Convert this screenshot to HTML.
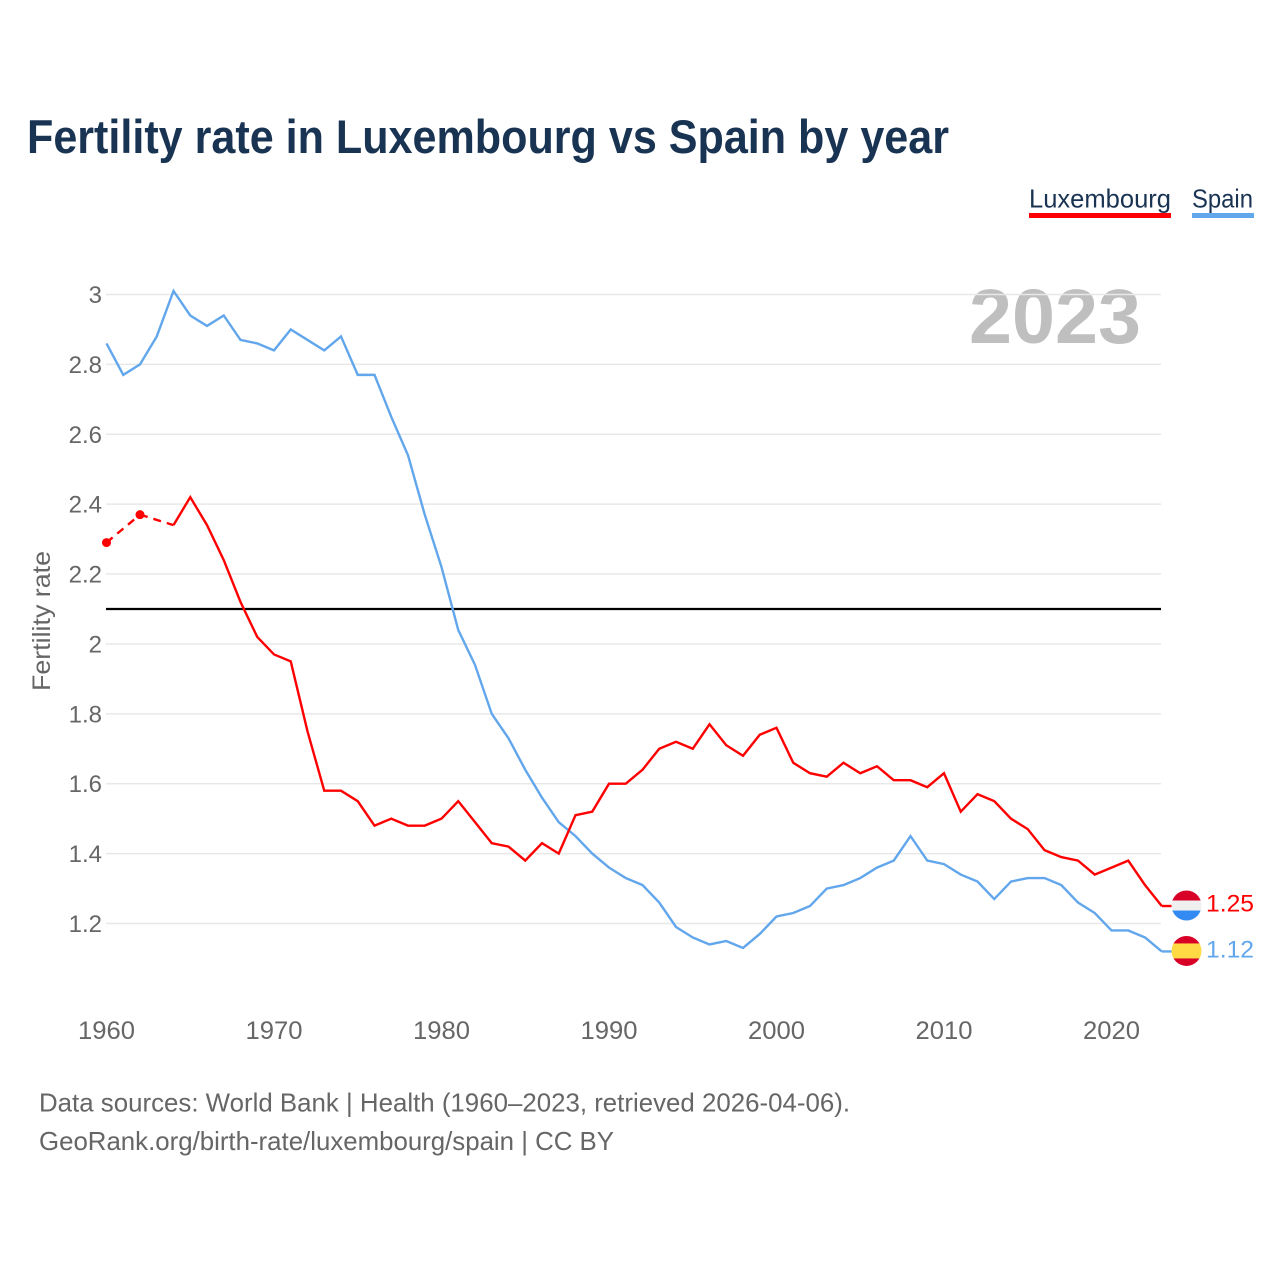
<!DOCTYPE html>
<html lang="en">
<head>
<meta charset="utf-8">
<title>Fertility rate in Luxembourg vs Spain by year</title>
<style>
html,body{margin:0;padding:0;background:#fff}
svg{display:block;font-family:"Liberation Sans",sans-serif}
</style>
</head>
<body>
<svg id="chart" width="1280" height="1280" viewBox="0 0 1280 1280" xmlns="http://www.w3.org/2000/svg">
  <defs>
    <clipPath id="lux-clip"><circle id="lux-clip-circle" cx="1186.5" cy="906" r="15"/></clipPath>
    <clipPath id="esp-clip"><circle id="esp-clip-circle" cx="1186.5" cy="951" r="15"/></clipPath>
  </defs>
  <text x="27" y="153" font-size="47" font-weight="700" fill="#193353" textLength="922" lengthAdjust="spacingAndGlyphs">Fertility rate in Luxembourg vs Spain by year</text>

  <g>
    <text x="1029" y="207.5" font-size="26" fill="#193353" textLength="142" lengthAdjust="spacingAndGlyphs">Luxembourg</text>
    <rect x="1029" y="213" width="142" height="5" fill="#ff0000"/>
  </g>
  <g>
    <text x="1192" y="207.5" font-size="26" fill="#193353" textLength="61" lengthAdjust="spacingAndGlyphs">Spain</text>
    <rect x="1192" y="213" width="62" height="5" fill="#62a6ec"/>
  </g>

  <text x="969" y="343" font-size="77" font-weight="700" fill="#bfbfbf" textLength="172" lengthAdjust="spacingAndGlyphs">2023</text>

  <g id="grid"></g>
  <g id="y-ticks"></g>
  <g id="x-ticks"></g>
  <text transform="translate(50,621) rotate(-90)" text-anchor="middle" font-size="25" fill="#666666" textLength="140" lengthAdjust="spacingAndGlyphs">Fertility rate</text>

  <line id="ref-line" x1="106" x2="1161" stroke="#000000" stroke-width="2.2"/>
  <g id="series"></g>

  <g id="flag-lux"></g>
  <g id="flag-esp"></g>
  <g id="end-labels"></g>

  <text x="39" y="1111.5" font-size="26" fill="#666666" textLength="811" lengthAdjust="spacingAndGlyphs">Data sources: World Bank | Health (1960–2023, retrieved 2026-04-06).</text>
  <text x="39" y="1150" font-size="26" fill="#666666" textLength="575" lengthAdjust="spacingAndGlyphs">GeoRank.org/birth-rate/luxembourg/spain | CC BY</text>
</svg>
<script>
const startYear = 1960;
const yTickLabels = ["3", "2.8", "2.6", "2.4", "2.2", "2", "1.8", "1.6", "1.4", "1.2"];
const xTickLabels = ["1960", "1970", "1980", "1990", "2000", "2010", "2020"];
const referenceValue = 2.1;
const luxembourgValues = [2.29, null, 2.37, null, 2.34, 2.42, 2.34, 2.24, 2.12, 2.02, 1.97, 1.95, 1.75, 1.58, 1.58, 1.55, 1.48, 1.50, 1.48, 1.48, 1.50, 1.55, 1.49, 1.43, 1.42, 1.38, 1.43, 1.40, 1.51, 1.52, 1.60, 1.60, 1.64, 1.70, 1.72, 1.70, 1.77, 1.71, 1.68, 1.74, 1.76, 1.66, 1.63, 1.62, 1.66, 1.63, 1.65, 1.61, 1.61, 1.59, 1.63, 1.52, 1.57, 1.55, 1.50, 1.47, 1.41, 1.39, 1.38, 1.34, 1.36, 1.38, 1.31, 1.25];
const spainValues = [2.86, 2.77, 2.80, 2.88, 3.01, 2.94, 2.91, 2.94, 2.87, 2.86, 2.84, 2.90, 2.87, 2.84, 2.88, 2.77, 2.77, 2.65, 2.54, 2.37, 2.22, 2.04, 1.94, 1.80, 1.73, 1.64, 1.56, 1.49, 1.45, 1.40, 1.36, 1.33, 1.31, 1.26, 1.19, 1.16, 1.14, 1.15, 1.13, 1.17, 1.22, 1.23, 1.25, 1.30, 1.31, 1.33, 1.36, 1.38, 1.45, 1.38, 1.37, 1.34, 1.32, 1.27, 1.32, 1.33, 1.33, 1.31, 1.26, 1.23, 1.18, 1.18, 1.16, 1.12];

const NS = "http://www.w3.org/2000/svg";
const xScale = year => 106.5 + (year - 1960) * 16.75;
const yScale = value => 294.5 + (3 - value) * 349.44;
const RED = "#ff0000";
const BLUE = "#62a6ec";
const GREY = "#666666";

function make(tag, attrs, parent) {
  const el = document.createElementNS(NS, tag);
  for (const key in attrs) el.setAttribute(key, attrs[key]);
  parent.appendChild(el);
  return el;
}

const gridGroup = document.getElementById("grid");
const yTickGroup = document.getElementById("y-ticks");
yTickLabels.forEach(label => {
  const y = yScale(parseFloat(label));
  const line = make("line", {x1: 106, x2: 1161, y1: y, y2: y, stroke: "#e8e8e8", "stroke-width": 1.5}, gridGroup);
  
  
  const text = make("text", {x: 102, y: y + 8.5, "text-anchor": "end", "font-size": 24, fill: GREY}, yTickGroup);
  
  
  text.textContent = label;
});

const xTickGroup = document.getElementById("x-ticks");
xTickLabels.forEach(label => {
  const text = make("text", {x: xScale(parseInt(label, 10)), y: 1039, "text-anchor": "middle", "font-size": 25, fill: GREY, textLength: 57, lengthAdjust: "spacingAndGlyphs"}, xTickGroup);
  
  
  text.textContent = label;
});

const refLine = document.getElementById("ref-line");
refLine.setAttribute("y1", yScale(referenceValue));
refLine.setAttribute("y2", yScale(referenceValue));

function drawSeries(values, color, name) {
  const group = document.getElementById("series");
  const points = values.map((v, i) => v === null ? null : [xScale(startYear + i), yScale(v)]);
  let run = [];
  let lastPoint = null;
  let lastIndex = -1;
  const flush = () => {
    if (run.length > 1) {
      const line = make("polyline", {points: run.map(p => p.join(",")).join(" "), fill: "none", stroke: color, "stroke-width": 2.4, "stroke-linejoin": "miter"}, group);
      
      
    }
    run = [];
  };
  points.forEach((p, i) => {
    if (!p) { flush(); return; }
    if (lastPoint && i - lastIndex > 1) {
      const dash = make("line", {x1: lastPoint[0], y1: lastPoint[1], x2: p[0], y2: p[1], stroke: color, "stroke-width": 2.4, "stroke-dasharray": "8 6"}, group);
      
      
    }
    const isolated = !points[i - 1] && !points[i + 1];
    if (isolated) {
      const dot = make("circle", {cx: p[0], cy: p[1], r: 4.5, fill: color}, group);
      
      
    }
    run.push(p);
    lastPoint = p;
    lastIndex = i;
  });
  flush();
  const last = points[points.length - 1];
  const tail = make("line", {x1: last[0], y1: last[1], x2: last[0] + 10, y2: last[1], stroke: color, "stroke-width": 2.4}, group);
  
  
}
drawSeries(spainValues, BLUE, "spain");
drawSeries(luxembourgValues, RED, "luxembourg");

const luxLast = luxembourgValues[luxembourgValues.length - 1];
const espLast = spainValues[spainValues.length - 1];
const luxY = yScale(luxLast);
const espY = yScale(espLast);
document.getElementById("lux-clip-circle").setAttribute("cy", luxY - 0.5);
document.getElementById("esp-clip-circle").setAttribute("cy", espY - 0.5);

function drawFlag(groupId, clipId, centerY, bands) {
  const group = document.getElementById(groupId);
  group.setAttribute("clip-path", "url(#" + clipId + ")");
  make("rect", {x: 1171, y: centerY - 15, width: 31, height: 30, fill: "#fff"}, group);
  bands.forEach(b => {
    make("rect", {x: 1171, y: centerY + b[0], width: 31, height: b[1], fill: b[2]}, group);
  });
}
drawFlag("flag-lux", "lux-clip", luxY - 0.5, [[-15, 10, "#d80027"], [-5, 10, "#f0f0f0"], [5, 10, "#338af3"]]);
drawFlag("flag-esp", "esp-clip", espY - 0.5, [[-15, 8, "#d80027"], [-7.5, 15, "#ffda44"], [7.5, 8, "#d80027"]]);

const labelGroup = document.getElementById("end-labels");
const luxLabel = make("text", {x: 1206, y: luxY + 5.5, "font-size": 24.5, fill: RED, textLength: 48, lengthAdjust: "spacingAndGlyphs"}, labelGroup);


luxLabel.textContent = luxLast.toFixed(2);
const espLabel = make("text", {x: 1206, y: espY + 6, "font-size": 24.5, fill: BLUE, textLength: 48, lengthAdjust: "spacingAndGlyphs"}, labelGroup);


espLabel.textContent = espLast.toFixed(2);
</script>
</body>
</html>
